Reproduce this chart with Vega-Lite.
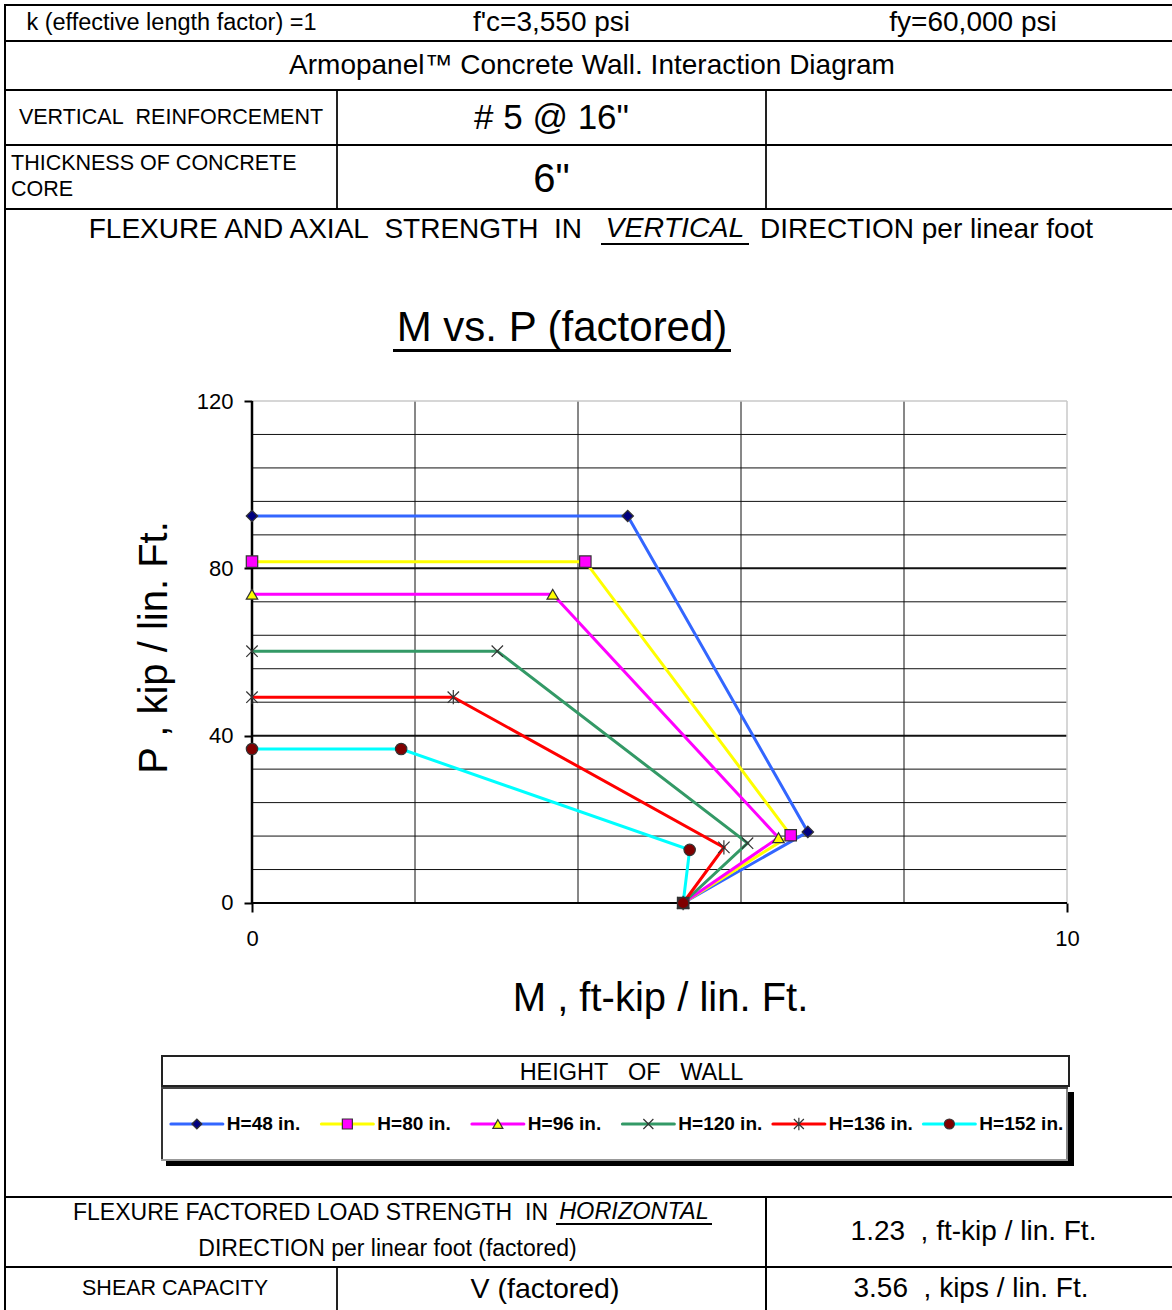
{
  "$schema": "https://vega.github.io/schema/vega-lite/v6.json",
  "background": "white",
  "padding": {"left": 4, "top": 4, "right": 0, "bottom": 0},
  "config": {"font": "Liberation Sans", "view": {"stroke": null}, "concat": {"spacing": 0}, "text": {"color": "#000000", "font": "Liberation Sans"}},
  "datasets": {
    "curves": [
      {"series": "H=48 in.", "i": 1, "M": 0, "P": 92.5},
      {"series": "H=48 in.", "i": 2, "M": 4.61, "P": 92.5},
      {"series": "H=48 in.", "i": 3, "M": 6.82, "P": 17.0},
      {"series": "H=48 in.", "i": 4, "M": 5.29, "P": 0},
      {"series": "H=80 in.", "i": 1, "M": 0, "P": 81.6},
      {"series": "H=80 in.", "i": 2, "M": 4.09, "P": 81.6},
      {"series": "H=80 in.", "i": 3, "M": 6.61, "P": 16.2},
      {"series": "H=80 in.", "i": 4, "M": 5.29, "P": 0},
      {"series": "H=96 in.", "i": 1, "M": 0, "P": 73.8},
      {"series": "H=96 in.", "i": 2, "M": 3.69, "P": 73.8},
      {"series": "H=96 in.", "i": 3, "M": 6.46, "P": 15.6},
      {"series": "H=96 in.", "i": 4, "M": 5.29, "P": 0},
      {"series": "H=120 in.", "i": 1, "M": 0, "P": 60.2},
      {"series": "H=120 in.", "i": 2, "M": 3.01, "P": 60.2},
      {"series": "H=120 in.", "i": 3, "M": 6.08, "P": 14.3},
      {"series": "H=120 in.", "i": 4, "M": 5.29, "P": 0},
      {"series": "H=136 in.", "i": 1, "M": 0, "P": 49.2},
      {"series": "H=136 in.", "i": 2, "M": 2.47, "P": 49.2},
      {"series": "H=136 in.", "i": 3, "M": 5.79, "P": 13.3},
      {"series": "H=136 in.", "i": 4, "M": 5.29, "P": 0},
      {"series": "H=152 in.", "i": 1, "M": 0, "P": 36.8},
      {"series": "H=152 in.", "i": 2, "M": 1.83, "P": 36.8},
      {"series": "H=152 in.", "i": 3, "M": 5.37, "P": 12.7},
      {"series": "H=152 in.", "i": 4, "M": 5.29, "P": 0}
    ],
    "legendRows": [
      {"series": "H=48 in."}, {"series": "H=80 in."}, {"series": "H=96 in."},
      {"series": "H=120 in."}, {"series": "H=136 in."}, {"series": "H=152 in."}
    ]
  },
  "spacing": 0,
  "hconcat": [
    {"width": 2, "height": 1306, "view": {"fill": "#000000", "stroke": null}, "data": {"values": []}, "mark": "text"},
    {
      "spacing": 0,
      "vconcat": [
        {"width": 1166, "height": 2, "view": {"fill": "#000000", "stroke": null}, "data": {"values": []}, "mark": "text"},
        {"spacing": 0, "hconcat": [
          {"width": 331, "height": 34, "data": {"values": [{"t": "k (effective length factor) =1"}]}, "mark": {"type": "text", "fontSize": 23.5}, "encoding": {"text": {"field": "t", "type": "nominal"}}},
          {"width": 429, "height": 34, "data": {"values": [{"t": "f'c=3,550 psi"}]}, "mark": {"type": "text", "fontSize": 28}, "encoding": {"text": {"field": "t", "type": "nominal"}}},
          {"width": 406, "height": 34, "data": {"values": [{"t": "fy=60,000 psi"}]}, "mark": {"type": "text", "fontSize": 28, "dx": 4}, "encoding": {"text": {"field": "t", "type": "nominal"}}}
        ]},
        {"width": 1166, "height": 2, "view": {"fill": "#000000", "stroke": null}, "data": {"values": []}, "mark": "text"},
        {"width": 1166, "height": 47, "data": {"values": [{"t": "Armopanel\u2122 Concrete Wall. Interaction Diagram"}]}, "mark": {"type": "text", "fontSize": 28, "dx": 3}, "encoding": {"text": {"field": "t", "type": "nominal"}}},
        {"width": 1166, "height": 2, "view": {"fill": "#000000", "stroke": null}, "data": {"values": []}, "mark": "text"},
        {"spacing": 0, "hconcat": [
          {"width": 330, "height": 53, "data": {"values": [{"t": "VERTICAL\u00a0 REINFORCEMENT"}]}, "mark": {"type": "text", "fontSize": 21.5}, "encoding": {"text": {"field": "t", "type": "nominal"}}},
          {"width": 2, "height": 53, "view": {"fill": "#222222", "stroke": null}, "data": {"values": []}, "mark": "text"},
          {"width": 427, "height": 53, "data": {"values": [{"t": "# 5 @ 16\""}]}, "mark": {"type": "text", "fontSize": 35}, "encoding": {"text": {"field": "t", "type": "nominal"}}},
          {"width": 2, "height": 53, "view": {"fill": "#222222", "stroke": null}, "data": {"values": []}, "mark": "text"},
          {"width": 405, "height": 53, "data": {"values": []}, "mark": "text"}
        ]},
        {"width": 1166, "height": 2, "view": {"fill": "#000000", "stroke": null}, "data": {"values": []}, "mark": "text"},
        {"spacing": 0, "hconcat": [
          {"width": 330, "height": 62, "data": {"values": [{"t": ["THICKNESS OF CONCRETE", "CORE"]}]}, "mark": {"type": "text", "fontSize": 21.5, "align": "left", "dx": -160, "dy": -13, "lineHeight": 26}, "encoding": {"text": {"field": "t", "type": "nominal"}}},
          {"width": 2, "height": 62, "view": {"fill": "#222222", "stroke": null}, "data": {"values": []}, "mark": "text"},
          {"width": 427, "height": 62, "data": {"values": [{"t": "6\""}]}, "mark": {"type": "text", "fontSize": 40, "dy": 3}, "encoding": {"text": {"field": "t", "type": "nominal"}}},
          {"width": 2, "height": 62, "view": {"fill": "#222222", "stroke": null}, "data": {"values": []}, "mark": "text"},
          {"width": 405, "height": 62, "data": {"values": []}, "mark": "text"}
        ]},
        {"width": 1166, "height": 2, "view": {"fill": "#000000", "stroke": null}, "data": {"values": []}, "mark": "text"},
        {"spacing": 0, "hconcat": [
          {"width": 595, "height": 39, "data": {"values": [{"t": "FLEXURE AND AXIAL\u00a0 STRENGTH\u00a0 IN"}]}, "mark": {"type": "text", "fontSize": 28, "align": "right", "dx": 278.5}, "encoding": {"text": {"field": "t", "type": "nominal"}}},
          {"spacing": 0, "vconcat": [
            {"width": 148, "height": 33, "data": {"values": [{"t": "VERTICAL"}]}, "mark": {"type": "text", "fontSize": 28.5, "fontStyle": "italic", "dy": 1}, "encoding": {"text": {"field": "t", "type": "nominal"}}},
            {"width": 148, "height": 2, "view": {"fill": "#000000", "stroke": null}, "data": {"values": []}, "mark": "text"}
          ]},
          {"width": 423, "height": 39, "data": {"values": [{"t": "DIRECTION per linear foot"}]}, "mark": {"type": "text", "fontSize": 28, "align": "left", "dx": -200.5}, "encoding": {"text": {"field": "t", "type": "nominal"}}}
        ]},
        {"spacing": 0, "hconcat": [
          {"width": 387, "height": 136, "data": {"values": []}, "mark": "text"},
          {"spacing": 0, "vconcat": [
            {"width": 338, "height": 99, "data": {"values": [{"t": "M vs. P (factored)"}]}, "mark": {"type": "text", "fontSize": 42, "dy": 29}, "encoding": {"text": {"field": "t", "type": "nominal"}}},
            {"width": 338, "height": 3, "view": {"fill": "#000000", "stroke": null}, "data": {"values": []}, "mark": "text"}
          ]},
          {"width": 441, "height": 136, "data": {"values": []}, "mark": "text"}
        ]},
        {
          "width": 1166, "height": 670,
          "layer": [
            {"data": {"values": [{"v": 2}, {"v": 4}, {"v": 6}, {"v": 8}]},
             "mark": {"type": "rule", "color": "#111111", "strokeWidth": 1},
             "encoding": {
               "x": {"field": "v", "type": "quantitative", "scale": {"domain": [-3.0184, 11.2883], "nice": false, "zero": false},
                 "axis": {"orient": "bottom", "offset": -152, "values": [0, 10], "format": "d", "domain": false, "grid": false, "ticks": true, "tickSize": 9, "tickWidth": 2, "tickColor": "#000000", "labelFontSize": 22, "labelFont": "Liberation Sans", "labelColor": "#000000", "labelPadding": 16, "labelFlush": false, "labelOverlap": false, "title": "M , ft-kip / lin. Ft.", "titleFont": "Liberation Sans", "titleFontSize": 40, "titleFontWeight": "normal", "titleColor": "#000000", "titlePadding": 29, "titleX": 654}},
               "y": {"datum": 0, "type": "quantitative", "scale": {"domain": [-36.3347, 123.8247], "nice": false, "zero": false},
                 "axis": {"orient": "left", "offset": -246, "values": [0, 40, 80, 120], "format": "d", "domain": false, "grid": false, "ticks": true, "tickSize": 8, "tickWidth": 2, "tickColor": "#000000", "labelFontSize": 22, "labelFont": "Liberation Sans", "labelColor": "#000000", "labelPadding": 11, "labelOverlap": false, "title": "P , kip / lin. Ft.", "titleFont": "Liberation Sans", "titleFontSize": 40, "titleFontWeight": "normal", "titleColor": "#000000", "titlePadding": 22, "titleY": 262}},
               "y2": {"datum": 120}}},
            {"data": {"values": [{"v": 8}, {"v": 16}, {"v": 24}, {"v": 32}, {"v": 40}, {"v": 48}, {"v": 56}, {"v": 64}, {"v": 72}, {"v": 80}, {"v": 88}, {"v": 96}, {"v": 104}, {"v": 112}]},
             "mark": {"type": "rule", "color": "#111111"},
             "encoding": {
               "y": {"field": "v", "type": "quantitative"},
               "x": {"datum": 0, "type": "quantitative"},
               "x2": {"datum": 10},
               "strokeWidth": {"condition": {"test": "datum.v % 40 == 0", "value": 2}, "value": 1}}},
            {"data": {"values": [{}]}, "mark": {"type": "rule", "color": "#c8c8c8", "strokeWidth": 1.5},
             "encoding": {"x": {"datum": 10, "type": "quantitative"}, "y": {"datum": 0, "type": "quantitative"}, "y2": {"datum": 120}}},
            {"data": {"values": [{}]}, "mark": {"type": "rule", "color": "#c8c8c8", "strokeWidth": 1.5},
             "encoding": {"y": {"datum": 120, "type": "quantitative"}, "x": {"datum": 0, "type": "quantitative"}, "x2": {"datum": 10}}},
            {"data": {"values": [{}]}, "mark": {"type": "rule", "color": "#000000", "strokeWidth": 2},
             "encoding": {"y": {"datum": 0, "type": "quantitative"}, "x": {"datum": 0, "type": "quantitative"}, "x2": {"datum": 10}}},
            {"data": {"values": [{}]}, "mark": {"type": "rule", "color": "#000000", "strokeWidth": 2.5},
             "encoding": {"x": {"datum": 0, "type": "quantitative"}, "y": {"datum": 0, "type": "quantitative"}, "y2": {"datum": 120}}},
            {"data": {"name": "curves"},
             "mark": {"type": "line", "strokeWidth": 3},
             "encoding": {
               "x": {"field": "M", "type": "quantitative"},
               "y": {"field": "P", "type": "quantitative"},
               "color": {"field": "series", "type": "nominal", "scale": {"domain": ["H=48 in.", "H=80 in.", "H=96 in.", "H=120 in.", "H=136 in.", "H=152 in."], "range": ["#3366ff", "#ffff00", "#ff00ff", "#339966", "#ff0000", "#00ffff"]}, "legend": null},
               "order": {"field": "i", "type": "quantitative"}}},
            {"data": {"name": "curves"},
             "mark": {"type": "point", "filled": true, "size": 130, "stroke": "#333333", "strokeWidth": 1.2, "opacity": 1},
             "encoding": {
               "x": {"field": "M", "type": "quantitative"},
               "y": {"field": "P", "type": "quantitative"},
               "shape": {"field": "series", "type": "nominal", "scale": {"domain": ["H=48 in.", "H=80 in.", "H=96 in.", "H=120 in.", "H=136 in.", "H=152 in."], "range": ["diamond", "square", "triangle-up", "M-1,-1L1,1M-1,1L1,-1", "M-1,-1L1,1M-1,1L1,-1M0,-1.25L0,1.25", "circle"]}, "legend": null},
               "fill": {"field": "series", "type": "nominal", "scale": {"domain": ["H=48 in.", "H=80 in.", "H=96 in.", "H=120 in.", "H=136 in.", "H=152 in."], "range": ["#000080", "#ff00ff", "#ffff00", "transparent", "transparent", "#800000"]}, "legend": null}}}
          ]
        },
        {"spacing": 0, "hconcat": [
          {"width": 155, "height": 32, "data": {"values": []}, "mark": "text"},
          {"spacing": 0, "vconcat": [
            {"width": 909, "height": 2, "view": {"fill": "#222222", "stroke": null}, "data": {"values": []}, "mark": "text"},
            {"spacing": 0, "hconcat": [
              {"width": 2, "height": 28, "view": {"fill": "#222222", "stroke": null}, "data": {"values": []}, "mark": "text"},
              {"width": 905, "height": 28, "data": {"values": [{"t": "HEIGHT\u00a0\u00a0 OF\u00a0\u00a0 WALL"}]}, "mark": {"type": "text", "fontSize": 23.5, "dx": 16, "dy": 2}, "encoding": {"text": {"field": "t", "type": "nominal"}}},
              {"width": 2, "height": 28, "view": {"fill": "#222222", "stroke": null}, "data": {"values": []}, "mark": "text"}
            ]},
            {"width": 909, "height": 2, "view": {"fill": "#222222", "stroke": null}, "data": {"values": []}, "mark": "text"}
          ]},
          {"width": 102, "height": 32, "data": {"values": []}, "mark": "text"}
        ]},
        {"spacing": 0, "hconcat": [
          {"width": 155, "height": 79, "data": {"values": []}, "mark": "text"},
          {"spacing": 0, "hconcat": [
            {"spacing": 0, "vconcat": [
              {"spacing": 0, "vconcat": [
                {"width": 907, "height": 2, "view": {"fill": "#444444", "stroke": null}, "data": {"values": []}, "mark": "text"},
                {"spacing": 0, "hconcat": [
                  {"width": 2, "height": 70, "view": {"fill": "#333333", "stroke": null}, "data": {"values": []}, "mark": "text"},
                  {
                    "width": 903, "height": 70,
                    "data": {"name": "legendRows"},
                    "layer": [
                      {"mark": {"type": "point", "shape": "M-1,0L1,0", "size": 2704, "strokeWidth": 3, "strokeCap": "round", "filled": false, "opacity": 1},
                       "encoding": {
                         "x": {"field": "series", "type": "nominal", "bandPosition": 0.225, "scale": {"type": "band", "domain": ["H=48 in.", "H=80 in.", "H=96 in.", "H=120 in.", "H=136 in.", "H=152 in."], "paddingInner": 0, "paddingOuter": 0}, "axis": null},
                         "color": {"field": "series", "type": "nominal", "scale": {"domain": ["H=48 in.", "H=80 in.", "H=96 in.", "H=120 in.", "H=136 in.", "H=152 in."], "range": ["#3366ff", "#ffff00", "#ff00ff", "#339966", "#ff0000", "#00ffff"]}, "legend": null}}},
                      {"mark": {"type": "point", "filled": true, "size": 100, "stroke": "#333333", "strokeWidth": 1.2, "opacity": 1},
                       "encoding": {
                         "x": {"field": "series", "type": "nominal", "bandPosition": 0.225, "scale": {"type": "band", "domain": ["H=48 in.", "H=80 in.", "H=96 in.", "H=120 in.", "H=136 in.", "H=152 in."], "paddingInner": 0, "paddingOuter": 0}, "axis": null},
                         "shape": {"field": "series", "type": "nominal", "scale": {"domain": ["H=48 in.", "H=80 in.", "H=96 in.", "H=120 in.", "H=136 in.", "H=152 in."], "range": ["diamond", "square", "triangle-up", "M-1,-1L1,1M-1,1L1,-1", "M-1,-1L1,1M-1,1L1,-1M0,-1.25L0,1.25", "circle"]}, "legend": null},
                         "fill": {"field": "series", "type": "nominal", "scale": {"domain": ["H=48 in.", "H=80 in.", "H=96 in.", "H=120 in.", "H=136 in.", "H=152 in."], "range": ["#000080", "#ff00ff", "#ffff00", "transparent", "transparent", "#800000"]}, "legend": null}}},
                      {"mark": {"type": "text", "align": "left", "fontSize": 19, "fontWeight": "bold"},
                       "encoding": {
                         "x": {"field": "series", "type": "nominal", "bandPosition": 0.424, "scale": {"type": "band", "domain": ["H=48 in.", "H=80 in.", "H=96 in.", "H=120 in.", "H=136 in.", "H=152 in."], "paddingInner": 0, "paddingOuter": 0}, "axis": null},
                         "text": {"field": "series", "type": "nominal"}}}
                    ]
                  },
                  {"width": 2, "height": 70, "view": {"fill": "#888888", "stroke": null}, "data": {"values": []}, "mark": "text"}
                ]},
                {"width": 907, "height": 2, "view": {"fill": "#999999", "stroke": null}, "data": {"values": []}, "mark": "text"}
              ]},
              {"spacing": 0, "hconcat": [
                {"width": 5, "height": 5, "data": {"values": []}, "mark": "text"},
                {"width": 902, "height": 5, "view": {"fill": "#000000", "stroke": null}, "data": {"values": []}, "mark": "text"}
              ]}
            ]},
            {"spacing": 0, "vconcat": [
              {"width": 6, "height": 5, "data": {"values": []}, "mark": "text"},
              {"width": 6, "height": 74, "view": {"fill": "#000000", "stroke": null}, "data": {"values": []}, "mark": "text"}
            ]}
          ]},
          {"width": 98, "height": 79, "data": {"values": []}, "mark": "text"}
        ]},
        {"width": 1166, "height": 30, "data": {"values": []}, "mark": "text"},
        {"width": 1166, "height": 2, "view": {"fill": "#000000", "stroke": null}, "data": {"values": []}, "mark": "text"},
        {"spacing": 0, "hconcat": [
          {"spacing": 0, "vconcat": [
            {"spacing": 0, "hconcat": [
              {"width": 550, "height": 34, "data": {"values": [{"t": "FLEXURE FACTORED LOAD STRENGTH\u00a0 IN"}]}, "mark": {"type": "text", "fontSize": 23, "align": "right", "dx": 267, "dy": -2}, "encoding": {"text": {"field": "t", "type": "nominal"}}},
              {"spacing": 0, "vconcat": [
                {"width": 156, "height": 25, "data": {"values": [{"t": "HORIZONTAL"}]}, "mark": {"type": "text", "fontSize": 23.5, "fontStyle": "italic", "dy": 1}, "encoding": {"text": {"field": "t", "type": "nominal"}}},
                {"width": 156, "height": 2, "view": {"fill": "#000000", "stroke": null}, "data": {"values": []}, "mark": "text"}
              ]},
              {"width": 53, "height": 34, "data": {"values": []}, "mark": "text"}
            ]},
            {"width": 759, "height": 34, "data": {"values": [{"t": "DIRECTION per linear foot (factored)"}]}, "mark": {"type": "text", "fontSize": 23, "dx": 2}, "encoding": {"text": {"field": "t", "type": "nominal"}}}
          ]},
          {"width": 2, "height": 68, "view": {"fill": "#000000", "stroke": null}, "data": {"values": []}, "mark": "text"},
          {"width": 405, "height": 68, "data": {"values": [{"t": "1.23\u00a0 , ft-kip / lin. Ft."}]}, "mark": {"type": "text", "fontSize": 28, "dx": 4}, "encoding": {"text": {"field": "t", "type": "nominal"}}}
        ]},
        {"width": 1166, "height": 2, "view": {"fill": "#000000", "stroke": null}, "data": {"values": []}, "mark": "text"},
        {"spacing": 0, "hconcat": [
          {"width": 330, "height": 42, "data": {"values": [{"t": "SHEAR CAPACITY"}]}, "mark": {"type": "text", "fontSize": 21.5, "dx": 4}, "encoding": {"text": {"field": "t", "type": "nominal"}}},
          {"width": 2, "height": 42, "view": {"fill": "#222222", "stroke": null}, "data": {"values": []}, "mark": "text"},
          {"width": 427, "height": 42, "data": {"values": [{"t": "V (factored)"}]}, "mark": {"type": "text", "fontSize": 28.5, "dx": -6.5}, "encoding": {"text": {"field": "t", "type": "nominal"}}},
          {"width": 2, "height": 42, "view": {"fill": "#000000", "stroke": null}, "data": {"values": []}, "mark": "text"},
          {"width": 405, "height": 42, "data": {"values": [{"t": "3.56\u00a0 , kips / lin. Ft."}]}, "mark": {"type": "text", "fontSize": 28, "dx": 1.5}, "encoding": {"text": {"field": "t", "type": "nominal"}}}
        ]}
      ]
    }
  ]
}
